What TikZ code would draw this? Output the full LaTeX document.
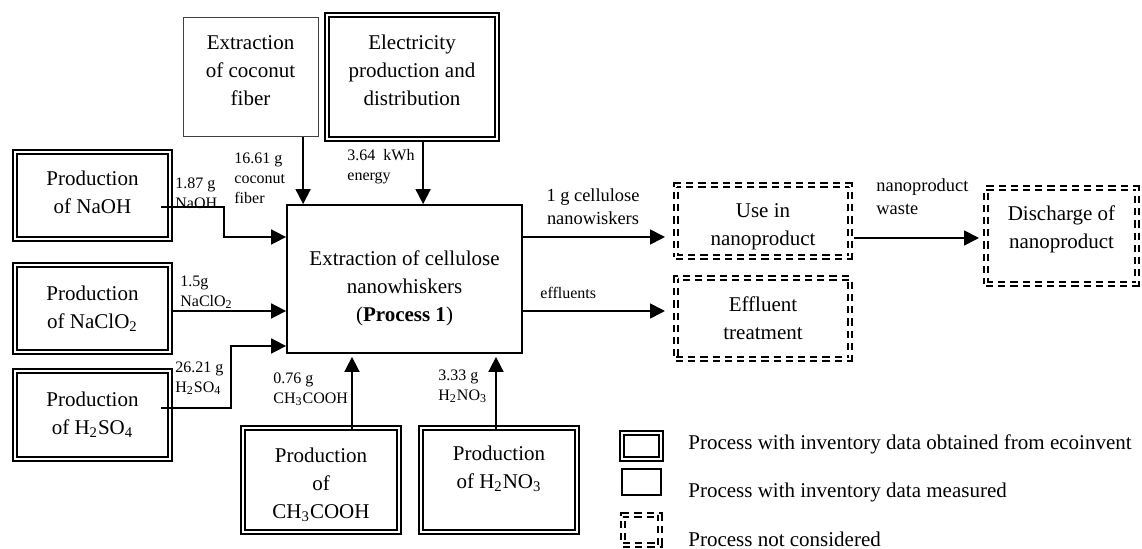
\documentclass[tikz,border=0pt]{standalone}
\usepackage{fontspec}
\setmainfont{Liberation Serif}
\usetikzlibrary{arrows.meta,positioning}

\newcommand{\procfont}{\fontsize{10.5}{14}\selectfont}
\newcommand{\lblfont}{\fontsize{8}{10}\selectfont}
\newcommand{\outfont}{\fontsize{9.2}{11.5}\selectfont}

\tikzset{
  size/.style 2 args={minimum width=#1*0.5pt, minimum height=#2*0.5pt},
  boxtext/.style={align=center, inner sep=0pt, font=\procfont},
  ecobox/.style={draw, double, line width=1pt, double distance=1.1pt, boxtext},
  measbox/.style={draw, line width=0.9pt, boxtext},
  skipbox/.style={draw, double, line width=1pt, double distance=0.8pt,
                  dash pattern=on 3.6pt off 2.5pt, boxtext},
  flow/.style={->, line width=0.85pt},
  flowlbl/.style={anchor=west, align=left, inner sep=0pt, font=\lblfont},
  keytext/.style={anchor=west, inner sep=0pt, font=\procfont}
}

\begin{document}
\begin{tikzpicture}[x=0.5pt, y=-0.5pt, >={Triangle[length=7.5pt,width=7.5pt]}]
    \useasboundingbox (0,0) rectangle (1142,549);

    % inputs
    \node[ecobox, size={155}{87}, label={[boxtext, yshift=1.5pt]center:{Production\\of NaOH}}] (naoh) at (92.5,195.5) {};
    \node[ecobox, size={155}{87}]   (naclo2)  at (92.5,308.5) {Production\\of NaClO\textsubscript{2}};
    \node[ecobox, size={155}{88}]   (h2so4)   at (92.5,415)   {Production\\of H\textsubscript{2}SO\textsubscript{4}};
    \node[measbox, size={135}{119}, line width=0.5pt, draw=black!75,
          label={[boxtext, yshift=3.5pt]center:{Extraction\\of coconut\\fiber}}] (fiber) at (250.5,77.5) {};
    \node[ecobox, size={170}{124},
          label={[boxtext, yshift=3.5pt]center:{Electricity\\production and\\distribution}}] (elec) at (412,77) {};
    \node[ecobox, size={156}{104},
          label={[boxtext, yshift=-2.5pt]center:{Production\\of\\CH\textsubscript{3}COOH}}] (ch3cooh) at (321,480) {};
    \node[ecobox, size={156}{104},
          label={[boxtext, yshift=5.5pt]center:{Production\\of H\textsubscript{2}NO\textsubscript{3}}}] (h2no3) at (499,480) {};

    % process
    \node[measbox, size={235}{148},
          label={[boxtext, yshift=-4.5pt]center:{Extraction of cellulose\\nanowhiskers\\(\textbf{Process 1})}}] (proc) at (404.5,279) {};

    % outputs
    \node[skipbox, size={174}{72},
          label={[boxtext, yshift=-2.75pt]center:{Use in\\nanoproduct}}] (use) at (763,221) {};
    \node[skipbox, size={174}{81}]  (efftr)   at (763,318.5)  {Effluent\\treatment};
    \node[skipbox, size={151}{96},
          label={[boxtext, yshift=3.5pt]center:{Discharge of\\nanoproduct}}] (disch) at (1061.5,236) {};

    % flows in
    \draw[flow] ([shift={(17,0)}]proc.north west |- fiber.south) -- ([shift={(17,0)}]proc.north west);
    \draw[flow] ([shift={(137,0)}]proc.north west |- elec.south) -- ([shift={(137,0)}]proc.north west);
    \draw[flow] ([shift={(-10,11.5)}]naoh.east) -- ++(63,0) |- ([shift={(0,-42)}]proc.west);
    \draw[flow] ([shift={(0,2.5)}]naclo2.east) -- ([shift={(0,32)}]proc.west);
    \draw[flow] ([shift={(-10,-7)}]h2so4.east) -- ++(70,0) |- ([shift={(0,67)}]proc.west);
    \draw[flow] ([shift={(31,3)}]ch3cooh.north) -- ([shift={(31,3)}]ch3cooh.north |- proc.south);
    \draw[flow] ([shift={(-3,3)}]h2no3.north) -- ([shift={(-3,3)}]h2no3.north |- proc.south);

    % flows out
    \draw[flow, shorten >=5pt] ([shift={(0,-42)}]proc.east) -- ([shift={(0,-42)}]proc.east -| use.west);
    \draw[flow, shorten >=5pt] ([shift={(0,32)}]proc.east) -- ([shift={(0,32)}]proc.east -| efftr.west);
    \draw[flow, shorten >=4.5pt] ([shift={(3,17)}]use.east) -- ([shift={(3,17)}]use.east -| disch.west);

    % flow labels
    \node[flowlbl] (lNaoh)   at (175,193.5) {1.87 g\\NaOH};
    \node[flowlbl] (lNaclo2) at (180,292)   {1.5g\\NaClO\textsubscript{2}};
    \node[flowlbl] (lH2so4)  at (175,378)   {26.21 g\\H\textsubscript{2}SO\textsubscript{4}};
    \node[flowlbl] (lFiber)  at (234,178)   {16.61 g\\coconut\\fiber};
    \node[flowlbl] (lElec)   at (347,167)   {3.64\ \ kWh\\energy};
    \node[flowlbl] (lCh3)    at (273,389)   {0.76 g\\CH\textsubscript{3}COOH};
    \node[flowlbl] (lH2no3)  at (438,386)   {3.33 g\\H\textsubscript{2}NO\textsubscript{3}};
    \node[flowlbl, anchor=center, align=center, font=\outfont] (lCnw) at (593,206.5) {1 g cellulose\\nanowiskers};
    \node[flowlbl] (lEffl)   at (540,293)   {effluents};
    \node[flowlbl, font=\outfont] (lWaste) at (876,196.5) {nanoproduct\\waste};

    % key
    \node[ecobox, size={39}{26}]  (keyEco)  at (641.5,446) {};
    \node[measbox, size={39}{26}] (keyMeas) at (641.5,482) {};
    \node[skipbox, size={37}{30}] (keySkip) at (641.5,530) {};
    \node[keytext] (keyEcoTxt)  at (688,444) {Process with inventory data obtained from ecoinvent};
    \node[keytext] (keyMeasTxt) at (688,492) {Process with inventory data measured};
    \node[keytext] (keySkipTxt) at (688,539) {Process not considered};
\end{tikzpicture}
\end{document}
